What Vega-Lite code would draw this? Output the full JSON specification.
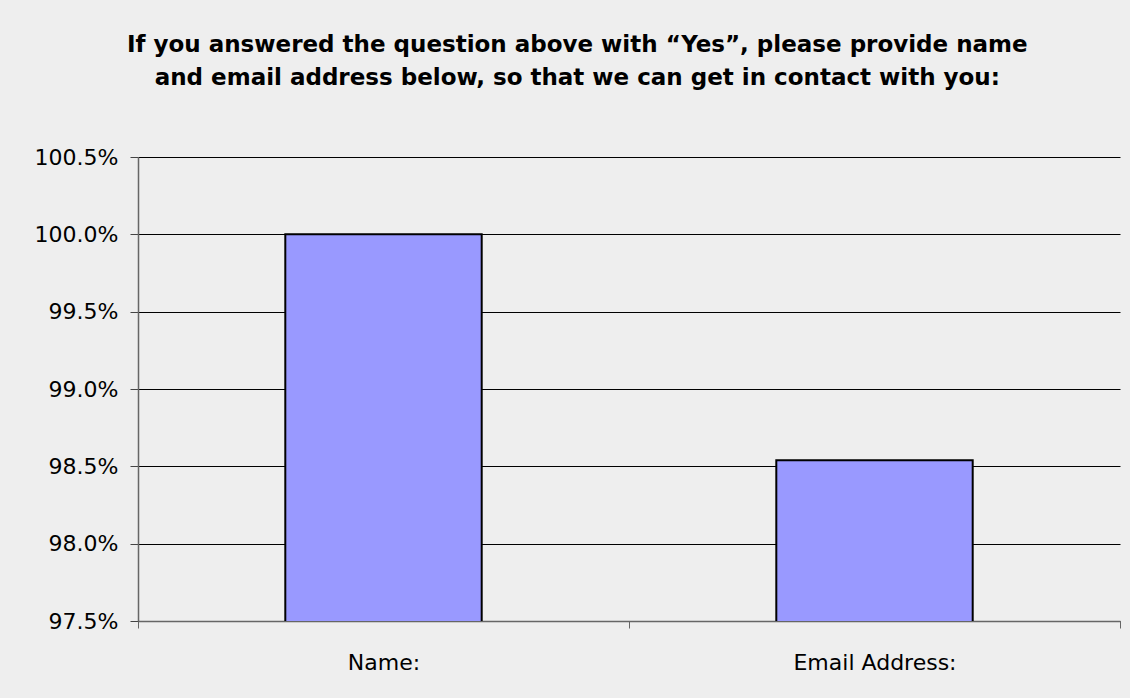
{
  "$schema": "https://vega.github.io/schema/vega-lite/v6.json",
  "autosize": {"type": "fit", "contains": "padding"},
  "width": 1130,
  "height": 698,
  "padding": {"left": 34, "right": 9, "top": 34, "bottom": 25},
  "background": "#eeeeee",
  "title": {
    "text": ["If you answered the question above with “Yes”, please provide name", "and email address below, so that we can get in contact with you:"],
    "font": "DejaVu Sans",
    "fontSize": 23,
    "fontWeight": "bold",
    "color": "#000000",
    "lineHeight": 33,
    "anchor": "middle",
    "frame": "bounds",
    "offset": 56
  },
  "data": {
    "values": [
      {"category": "Name:", "share": 1.0},
      {"category": "Email Address:", "share": 0.9854}
    ]
  },
  "mark": {"type": "bar", "color": "#9999ff", "stroke": "#000000", "strokeWidth": 2, "clip": true, "width": {"band": 0.4}},
  "encoding": {
    "x": {
      "field": "category",
      "type": "nominal",
      "sort": null,
      "scale": {"paddingInner": 0, "paddingOuter": 0},
      "axis": {
        "title": null,
        "labelAngle": 0,
        "labelFont": "DejaVu Sans",
        "labelFontSize": 22,
        "labelColor": "#000000",
        "labelPadding": 24,
        "tickBand": "extent",
        "tickSize": 7,
        "tickColor": "#666666",
        "domainColor": "#666666",
        "domainWidth": 1.5,
        "grid": false
      }
    },
    "y": {
      "field": "share",
      "type": "quantitative",
      "scale": {"domain": [0.975, 1.005], "zero": false, "nice": false},
      "axis": {
        "title": null,
        "values": [0.975, 0.98, 0.985, 0.99, 0.995, 1.0, 1.005],
        "format": ".1%",
        "labelFont": "DejaVu Sans",
        "labelFontSize": 22,
        "labelColor": "#000000",
        "labelPadding": 12,
        "tickSize": 8,
        "tickColor": "#444444",
        "domainColor": "#666666",
        "domainWidth": 1.5,
        "grid": true,
        "gridColor": "#000000",
        "gridWidth": 1,
        "gridOpacity": 1
      }
    }
  },
  "config": {
    "view": {"stroke": null}
  }
}
